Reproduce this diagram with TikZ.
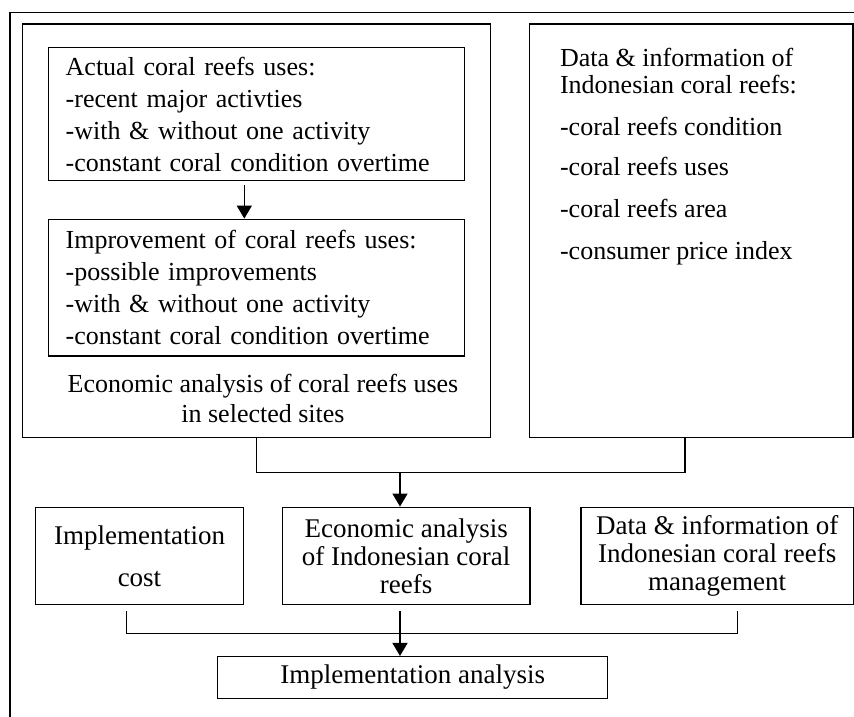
\documentclass[tikz,border=0pt]{standalone}
\usepackage{fontspec}
\setmainfont{Liberation Serif}
\usetikzlibrary{arrows.meta,calc}

\begin{document}
\begin{tikzpicture}[x=1pt,y=-1pt,line width=1.5pt,
    box/.style={draw,rectangle,inner sep=0pt},
    usebox/.style={box,align=left,text width=382pt,inner xsep=17pt,font=\fontsize{26}{32}\selectfont},
    result/.style={box,align=center,font=\fontsize{27}{28}\selectfont},
    flow/.style={-{Triangle[length=13pt,width=15pt]}}]
  \useasboundingbox (0,0) rectangle (854,716);
  \clip (0,0) rectangle (854,716);
  \draw (10,12.7) rectangle (900,760);

  \node[box,minimum width=468pt,minimum height=413.3pt] (sites) at (256.7,230.7) {};
  \node[usebox,minimum height=133.4pt] (actual) at (256.7,114)
    {Actual coral reefs uses:\\-recent major activties\\-with \& without one activity\\-constant coral condition overtime};
  \node[usebox,minimum height=136.7pt] (improve) at (256.7,287.7)
    {Improvement of coral reefs uses:\\-possible improvements\\-with \& without one activity\\-constant coral condition overtime};
  \node[align=center,font=\fontsize{26}{30}\selectfont] (sitecap) at (263,398)
    {Economic analysis of coral reefs uses\\in selected sites};

  \node[box,minimum width=323.7pt,minimum height=413.3pt] (datain) at (691.2,230.7) {};
  \foreach[count=\i] \y/\txt in {66.7/Data \& information of,93.3/Indonesian coral reefs:,135/-coral reefs condition,175.6/-coral reefs uses,217/-coral reefs area,259/-consumer price index} {
    \node[anchor=base west,inner sep=0pt,font=\fontsize{26}{30}\selectfont] (dl\i) at (559.3,\y) {\txt};
  }

  \node[result,minimum width=207.6pt,minimum height=97.4pt] (cost) at (139.5,556) {Implementation\\[14pt]cost};
  \node[result,minimum width=247.7pt,minimum height=97.4pt] (econ) at (406.2,556) {Economic analysis\\of Indonesian coral\\reefs};
  \node[result,minimum width=272.3pt,minimum height=97.4pt] (mgmt) at (717.2,556) {Data \& information of\\Indonesian coral reefs\\management};
  \node[result,minimum width=390pt,minimum height=41.6pt] (impl) at (412.7,677.5) {Implementation analysis};

  \coordinate (j1) at (400,472.3);
  \coordinate (j2) at (400,633.3);
  \draw[flow,shorten <=4pt] ([xshift=-12.4pt]actual.south) -- ([xshift=-12.4pt]improve.north);
  \draw (sites.south) |- (j1) -| ([xshift=-6.2pt]datain.south);
  \draw[flow] (j1) -- (j1 |- econ.north);
  \draw[shorten <=6pt,shorten >=6pt] ([xshift=-12.8pt]cost.south) |- (j2) -| ([xshift=20.1pt]mgmt.south);
  \draw[flow,shorten <=6pt] (j2 |- econ.south) -- (j2 |- impl.north);
\end{tikzpicture}
\end{document}
